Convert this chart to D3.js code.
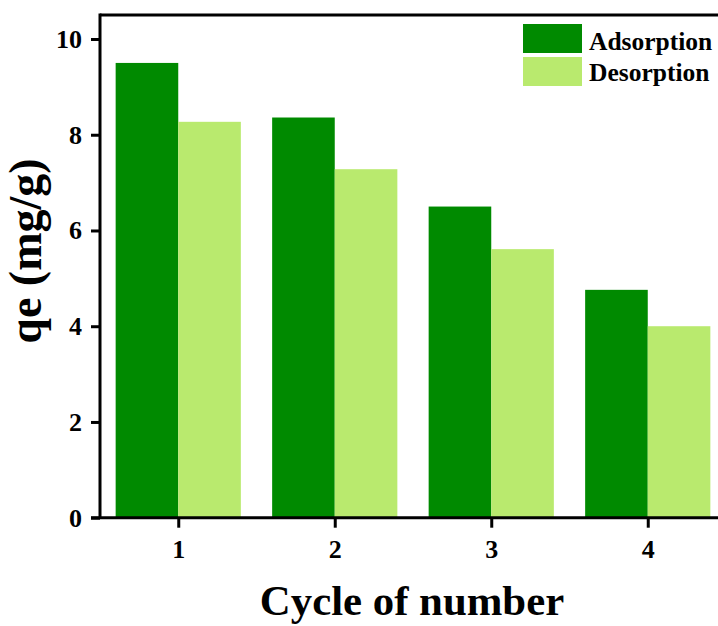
<!DOCTYPE html>
<html>
<head>
<meta charset="utf-8">
<script src="https://cdn.jsdelivr.net/npm/d3@7/dist/d3.min.js"></script>
<style>
  html, body { margin: 0; padding: 0; background: #fff; }
  svg { display: block; }
  text { font-family: "Liberation Serif", "Times New Roman", serif; font-weight: bold; fill: #000; }
</style>
</head>
<body>
<svg id="chart" width="718" height="626"></svg>
<script>
// Regeneration cycles and uptake values (mg/g)
const cycles = [1, 2, 3, 4];
const adsorption = [9.5, 8.36, 6.5, 4.76];
const desorption = [8.27, 7.28, 5.61, 4.0];
const seriesNames = ["Adsorption", "Desorption"];
const seriesColors = ["#008A00", "#B9EA6E"];
const yTicks = [0, 2, 4, 6, 8, 10];

const svg = d3.select("#chart");

// Linear x scale; the frame runs past the right edge of the canvas
const x = d3.scaleLinear().domain([0.5, 4.5]).range([100, 726]);
const y = d3.scaleLinear().domain([0, 10]).range([517.7, 39]);
const barW = 0.4;

const g = svg.append("g");

// Bars: adsorption to the left of each cycle tick, desorption to the right
const series = [adsorption, desorption];
series.forEach((vals, si) => {
  g.selectAll(".bar" + si)
    .data(cycles.map((c, i) => ({ c, v: vals[i] })))
    .enter().append("rect")
    .attr("x", d => x(si === 0 ? d.c - barW : d.c))
    .attr("width", d => x(d.c + barW) - x(d.c))
    .attr("y", d => y(d.v))
    .attr("height", d => y(0) - y(d.v))
    .attr("fill", seriesColors[si]);
});

// Top frame line
g.append("line")
  .attr("x1", x(0.5)).attr("x2", x(4.5))
  .attr("y1", 15).attr("y2", 15)
  .attr("stroke", "#000").attr("stroke-width", 3);

// Axes
const yAxis = d3.axisLeft(y).tickValues(yTicks).tickSize(9).tickPadding(9).tickFormat(d3.format("d"));
const xAxis = d3.axisBottom(x).tickValues(cycles).tickSize(10).tickPadding(10).tickFormat(d3.format("d"));

const ya = svg.append("g").attr("transform", `translate(${x(0.5)},0)`).call(yAxis);
ya.select(".domain").attr("d", `M0,13.5V${y(0)}`);
const xa = svg.append("g").attr("transform", `translate(0,${y(0)})`).call(xAxis);
xa.select(".domain").attr("d", `M${x(0.5) - 9},0H${x(4.5)}`);

[ya, xa].forEach(a => {
  a.selectAll(".domain").attr("stroke", "#000").attr("stroke-width", 3);
  a.selectAll(".tick line").attr("stroke", "#000").attr("stroke-width", 3);
  a.selectAll(".tick text")
    .style("font-family", '"Liberation Serif", serif')
    .style("font-weight", "bold")
    .style("font-size", "26px")
    .attr("fill", "#000");
});
xa.selectAll(".tick text").attr("y", 40).attr("dy", 0);

// Axis titles
svg.append("text")
  .attr("transform", `translate(41,251) rotate(-90)`)
  .attr("text-anchor", "middle")
  .style("font-size", "46px")
  .text("qe (mg/g)");

svg.append("text")
  .attr("x", 412).attr("y", 615)
  .attr("text-anchor", "middle")
  .style("font-size", "42.8px")
  .text("Cycle of number");

// Legend
const legend = svg.append("g");
seriesNames.forEach((name, i) => {
  legend.append("rect")
    .attr("x", 523).attr("y", 24 + i * 33)
    .attr("width", 59).attr("height", 29)
    .attr("fill", seriesColors[i]);
  legend.append("text")
    .attr("x", 589).attr("y", 50 + i * 31)
    .style("font-size", "25.5px")
    .text(name);
});
</script>
</body>
</html>
